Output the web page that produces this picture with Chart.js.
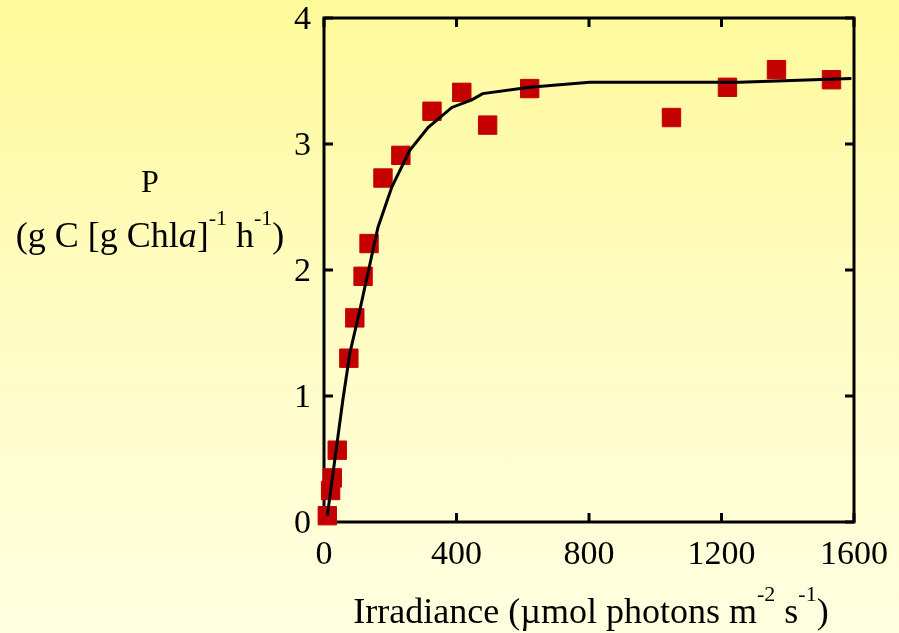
<!DOCTYPE html>
<html>
<head>
<meta charset="utf-8">
<script src="https://cdn.jsdelivr.net/npm/chart.js@4.4.1/dist/chart.umd.min.js"></script>
<style>
    html, body { margin: 0; padding: 0; }
    body {
        width: 899px; height: 633px; overflow: hidden;
        background: linear-gradient(to bottom, #fefa9a 0%, #fffcc4 50%, #ffffe0 100%);
    }
    #wrap { width: 899px; height: 633px; position: relative; }
</style>
</head>
<body>
<div id="wrap"><canvas id="piChart"></canvas></div>
<script>
// Dados medidos (irradiância x produção)
const irradiance = [10, 20, 25, 40, 75, 93, 118, 136, 178, 232, 326, 416, 494, 621, 1049, 1218, 1366, 1532];
const production = [0.05, 0.25, 0.35, 0.57, 1.30, 1.62, 1.95, 2.21, 2.73, 2.91, 3.26, 3.41, 3.15, 3.44, 3.21, 3.45, 3.59, 3.51];

// Curva ajustada
const fitIrradiance = [10, 57, 78, 108, 163, 205, 259, 314, 386, 446, 479, 621, 802, 1254, 1592];
const fitProduction = [0.05, 0.97, 1.34, 1.68, 2.34, 2.66, 2.95, 3.13, 3.29, 3.35, 3.40, 3.45, 3.49, 3.49, 3.52];

const xTicks = [0, 400, 800, 1200, 1600];
const yTicks = [0, 1, 2, 3, 4];

const SERIF = "'Liberation Serif', 'DejaVu Serif', serif";

// Texto com sobrescrito / itálico
function drawRich(ctx, parts, cx, baseline, size) {
    const supSize = Math.round(size * 0.62);
    let total = 0;
    parts.forEach(p => {
        ctx.font = (p.italic ? 'italic ' : '') + (p.sup ? supSize : size) + 'px ' + SERIF;
        p.w = ctx.measureText(p.t).width;
        total += p.w;
    });
    let x = cx - total / 2;
    parts.forEach(p => {
        ctx.font = (p.italic ? 'italic ' : '') + (p.sup ? supSize : size) + 'px ' + SERIF;
        ctx.fillText(p.t, x, p.sup ? baseline - size * 0.62 : baseline);
        x += p.w;
    });
}

const framePlugin = {
    id: 'frame',
    beforeDatasetsDraw(chart) {
        const { ctx, chartArea: { left, right, top, bottom }, scales: { x, y } } = chart;
        ctx.save();
        ctx.strokeStyle = '#000';
        ctx.lineWidth = 3;
        ctx.strokeRect(left, top, right - left, bottom - top);
        ctx.beginPath();
        xTicks.forEach(v => {
            const px = x.getPixelForValue(v);
            ctx.moveTo(px, top); ctx.lineTo(px, top + 9);
            ctx.moveTo(px, bottom); ctx.lineTo(px, bottom - 9);
        });
        yTicks.forEach(v => {
            const py = y.getPixelForValue(v);
            ctx.moveTo(left, py); ctx.lineTo(left + 9, py);
            ctx.moveTo(right, py); ctx.lineTo(right - 9, py);
        });
        ctx.stroke();
        ctx.restore();
    },
    afterDraw(chart) {
        const { ctx } = chart;
        ctx.save();
        ctx.fillStyle = '#000';
        ctx.textBaseline = 'alphabetic';
        drawRich(ctx, [{ t: 'P' }], 150, 192, 32);
        drawRich(ctx, [
            { t: '(g C [g Chl' }, { t: 'a', italic: true }, { t: ']' },
            { t: '-1', sup: true }, { t: ' h' }, { t: '-1', sup: true }, { t: ')' }
        ], 150, 247, 36);
        drawRich(ctx, [
            { t: 'Irradiance (\u00b5mol photons m' }, { t: '-2', sup: true },
            { t: ' s' }, { t: '-1', sup: true }, { t: ')' }
        ], 591, 623, 36);
        ctx.restore();
    }
};

new Chart(document.getElementById('piChart'), {
    type: 'scatter',
    data: {
        datasets: [
            {
                type: 'line',
                data: fitIrradiance.map((v, i) => ({ x: v, y: fitProduction[i] })),
                borderColor: '#000',
                borderWidth: 3,
                pointRadius: 0,
                tension: 0,
                fill: false,
                order: 0
            },
            {
                data: irradiance.map((v, i) => ({ x: v, y: production[i] })),
                pointStyle: 'rect',
                pointRadius: 13,
                backgroundColor: '#c40000',
                borderColor: '#c40000',
                borderWidth: 1,
                clip: false,
                order: 1
            }
        ]
    },
    options: {
        responsive: true,
        maintainAspectRatio: false,
        animation: false,
        layout: { padding: { left: 284, right: 45, top: 18, bottom: 0 } },
        plugins: { legend: { display: false }, tooltip: { enabled: false } },
        scales: {
            x: {
                type: 'linear', min: 0, max: 1600,
                afterBuildTicks: s => { s.ticks = xTicks.map(v => ({ value: v })); },
                afterFit: s => { s.height = 111; s.paddingLeft = 0; s.paddingRight = 0; },
                grid: { display: false },
                border: { display: false },
                ticks: { color: '#000', padding: 5, callback: v => String(v), font: { family: SERIF, size: 34 } }
            },
            y: {
                min: 0, max: 4,
                afterBuildTicks: s => { s.ticks = yTicks.map(v => ({ value: v })); },
                afterFit: s => { s.width = 40; s.paddingTop = 0; s.paddingBottom = 0; },
                grid: { display: false },
                border: { display: false },
                ticks: { color: '#000', padding: 5, labelOffset: 2, callback: v => String(v), font: { family: SERIF, size: 34 } }
            }
        }
    },
    plugins: [framePlugin]
});
</script>
</body>
</html>
